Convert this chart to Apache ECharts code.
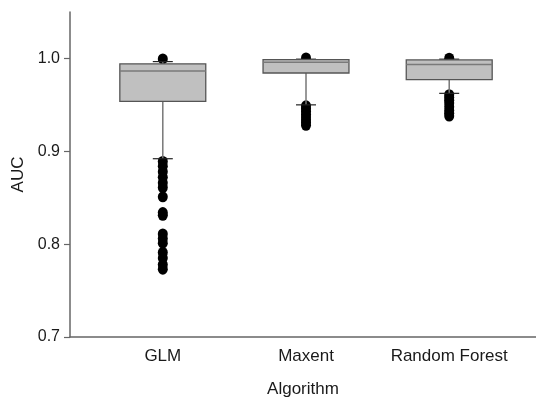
<!DOCTYPE html>
<html>
<head>
<meta charset="utf-8">
<script src="https://cdn.jsdelivr.net/npm/echarts@6/dist/echarts.min.js"></script>
<style>html,body{margin:0;padding:0;background:#fff}#c{width:536px;height:403px}</style>
</head>
<body>
<div id="c"></div>
<script>
// Data
var categories = ['GLM', 'Maxent', 'Random Forest'];
var lowerWhisker = [0.892, 0.950, 0.9624];
var q1 = [0.9537, 0.9843, 0.9772];
var median = [0.9865, 0.9960, 0.9934];
var q3 = [0.9942, 0.9987, 0.9984];
var upperWhisker = [0.9966, 0.9992, 0.9992];
var outliersGLM = [0.9995, 0.889, 0.884, 0.878, 0.872, 0.866, 0.861, 0.851, 0.834, 0.831, 0.811, 0.806, 0.801, 0.791, 0.785, 0.778, 0.773];
var outliersMaxent = [1.0005, 0.949, 0.946, 0.943, 0.940, 0.937, 0.934, 0.931, 0.928];
var outliersRF = [1.0003, 0.961, 0.958, 0.955, 0.952, 0.948, 0.944, 0.941, 0.938];
var yTicks = [0.7, 0.8, 0.9, 1.0];

var outlierSets = [outliersGLM, outliersMaxent, outliersRF];
var boxData = categories.map(function (c, i) {
  return [i + 1, lowerWhisker[i], q1[i], median[i], q3[i], upperWhisker[i]];
});
var outlierData = [];
outlierSets.forEach(function (arr, i) {
  arr.forEach(function (v) { outlierData.push([i + 1, v]); });
});

var chart = echarts.init(document.getElementById('c'), null, {renderer: 'canvas'});
var font = 'Liberation Sans, Arial, sans-serif';
chart.setOption({
  animation: false,
  backgroundColor: '#ffffff',
  grid: {left: 70, right: 0, top: 12, bottom: 60, containLabel: false},
  xAxis: {
    type: 'value', min: 0.352, max: 3.606,
    name: 'Algorithm', nameLocation: 'middle', nameGap: 44,
    nameTextStyle: {fontFamily: font, fontSize: 17, color: '#1a1a1a'},
    axisLine: {show: true, lineStyle: {color: '#666', width: 1.5}},
    axisTick: {show: false},
    splitLine: {show: false},
    axisLabel: {
      customValues: [1, 2, 3], margin: 11,
      fontFamily: font, fontSize: 17, color: '#1a1a1a',
      formatter: function (v) { return categories[Math.round(v) - 1] || ''; }
    }
  },
  yAxis: {
    type: 'value', min: 0.7, max: 1.05,
    name: 'AUC', nameLocation: 'middle', nameGap: 43,
    nameTextStyle: {fontFamily: font, fontSize: 17, color: '#1a1a1a'},
    axisLine: {show: true, lineStyle: {color: '#666', width: 1.5}},
    axisTick: {show: true, customValues: yTicks, length: 6, inside: false, lineStyle: {color: '#666', width: 1.2}},
    splitLine: {show: false},
    axisLabel: {
      customValues: yTicks, margin: 10,
      fontFamily: font, fontSize: 16, color: '#1a1a1a',
      formatter: function (v) { return v.toFixed(1); }
    }
  },
  series: [
    {
      type: 'scatter', data: outlierData, symbol: 'circle', symbolSize: [10, 11],
      itemStyle: {color: '#000', opacity: 1}, z: 2
    },
    {
      type: 'custom', z: 3,
      data: boxData,
      encode: {x: 0, y: [1, 2, 3, 4, 5]},
      renderItem: function (params, api) {
        var x = api.value(0);
        var lo = api.coord([x, api.value(1)]);
        var p1 = api.coord([x, api.value(2)]);
        var pm = api.coord([x, api.value(3)]);
        var p3 = api.coord([x, api.value(4)]);
        var hi = api.coord([x, api.value(5)]);
        var w = api.size([1, 0])[0] * 0.6;
        var cap = 10;
        var cx = p1[0];
        return {
          type: 'group',
          children: [
            {type: 'line', shape: {x1: cx, y1: lo[1], x2: cx, y2: p1[1]}, style: {stroke: '#777', lineWidth: 1.5}},
            {type: 'line', shape: {x1: cx, y1: p3[1], x2: cx, y2: hi[1]}, style: {stroke: '#777', lineWidth: 1.5}},
            {type: 'line', shape: {x1: cx - cap, y1: lo[1], x2: cx + cap, y2: lo[1]}, style: {stroke: '#222', lineWidth: 1.2}},
            {type: 'line', shape: {x1: cx - cap, y1: hi[1], x2: cx + cap, y2: hi[1]}, style: {stroke: '#222', lineWidth: 1.2}},
            {type: 'rect', shape: {x: cx - w / 2, y: p3[1], width: w, height: p1[1] - p3[1]}, style: {fill: '#c0c0c0', stroke: '#555', lineWidth: 1.3}},
            {type: 'line', shape: {x1: cx - w / 2, y1: pm[1], x2: cx + w / 2, y2: pm[1]}, style: {stroke: '#7a7a7a', lineWidth: 1.5}}
          ]
        };
      }
    }
  ]
});
</script>
</body>
</html>
